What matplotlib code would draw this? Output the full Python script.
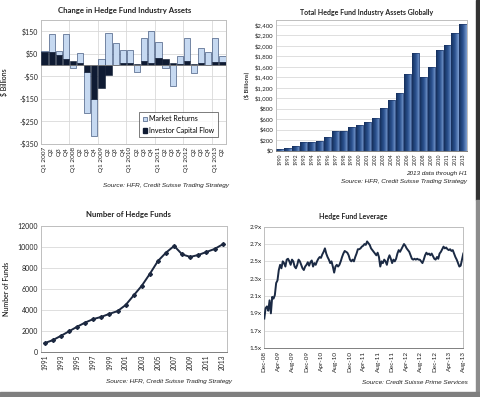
import numpy as np
import matplotlib
matplotlib.use("Agg")
import matplotlib.pyplot as plt
from matplotlib.colors import LinearSegmentedColormap
from matplotlib.patches import Rectangle, Patch

plt.rcParams['font.family'] = ['Lato', 'DejaVu Sans']

# ---------------- data ----------------
quarters = ["Q1 2007", "Q2", "Q3", "Q4", "Q1 2008", "Q2", "Q3", "Q4",
            "Q1 2009", "Q2", "Q3", "Q4", "Q1 2010", "Q2", "Q3", "Q4",
            "Q1 2011", "Q2", "Q3", "Q4", "Q1 2012", "Q2", "Q3", "Q4",
            "Q1 2013", "Q2"]
capital_flow = [58, 57, 44, 29, 17, 11, -31, -150, -103, -43, 1, 11, 11, 7,
                19, 11, 32, 29, 8, 3, 17, 4, 10, 2, 14, 14]
market_returns = [3, 82, 19, 110, -12, 43, -181, -163, 28, 143, 98, 58, 58, -29,
                  100, 138, 71, -12, -94, 37, 102, -34, 68, 58, 107, 26]

asset_years = [str(y) for y in range(1990, 2014)]
total_assets = [39, 58, 96, 168, 167, 186, 257, 368, 375, 456, 491, 539, 626,
                820, 973, 1105, 1465, 1868, 1407, 1600, 1917, 2008, 2252, 2410]

fund_years = list(range(1991, 2014))
num_funds = [821, 1105, 1514, 1945, 2383, 2781, 3115, 3325, 3617, 3873, 4454,
             5379, 6297, 7436, 8661, 9462, 10096, 9284, 9050, 9237, 9523, 9804, 10250]

lev_months = ["Dec-08", "Apr-09", "Aug-09", "Dec-09", "Apr-10", "Aug-10", "Dec-10",
              "Apr-11", "Aug-11", "Dec-11", "Apr-12", "Aug-12", "Dec-12", "Apr-13", "Aug-13"]
leverage = [1.84, 1.96, 1.98, 1.93, 2.05, 1.90, 2.09, 2.07, 2.11, 2.25, 2.28, 2.40,
            2.46, 2.42, 2.50, 2.48, 2.44, 2.52, 2.53, 2.50, 2.46, 2.52, 2.50, 2.44,
            2.42, 2.46, 2.52, 2.50, 2.46, 2.42, 2.40, 2.44, 2.46, 2.49, 2.45, 2.49,
            2.51, 2.44, 2.48, 2.46, 2.50, 2.53, 2.55, 2.54, 2.58, 2.61, 2.65, 2.59,
            2.55, 2.52, 2.48, 2.50, 2.44, 2.37, 2.44, 2.46, 2.44, 2.46, 2.50, 2.55,
            2.59, 2.62, 2.61, 2.60, 2.57, 2.52, 2.50, 2.52, 2.50, 2.55, 2.59, 2.64,
            2.64, 2.65, 2.67, 2.68, 2.70, 2.69, 2.73, 2.71, 2.69, 2.65, 2.63, 2.61,
            2.59, 2.57, 2.60, 2.55, 2.44, 2.50, 2.48, 2.52, 2.50, 2.46, 2.53, 2.57,
            2.53, 2.48, 2.52, 2.50, 2.53, 2.59, 2.63, 2.61, 2.64, 2.67, 2.70, 2.68,
            2.65, 2.63, 2.61, 2.57, 2.53, 2.52, 2.53, 2.52, 2.53, 2.52, 2.52, 2.50,
            2.48, 2.52, 2.57, 2.60, 2.58, 2.59, 2.57, 2.59, 2.56, 2.53, 2.52, 2.55,
            2.53, 2.59, 2.61, 2.64, 2.67, 2.65, 2.66, 2.64, 2.63, 2.64, 2.62, 2.63,
            2.59, 2.55, 2.52, 2.48, 2.44, 2.45, 2.52, 2.59]

# ---------------- figure ----------------
W, H = 481, 397
fig = plt.figure(figsize=(W / 100, H / 100), dpi=100)
fig.patch.set_facecolor('white')

def axes_px(l, t, r, b):
    return fig.add_axes([l / W, 1 - b / H, (r - l) / W, (b - t) / H])

def ftext(x, y, s, **kw):
    fig.text(x / W, 1 - y / H, s, **kw)

GRID = '#d9d9d9'
SPINE = '#bfbfbf'
NAVY = '#0f1b33'
LIGHT = '#c6d9f1'
CAP = dict(fontsize=4.6, style='italic', family=['Liberation Sans', 'DejaVu Sans'],
           ha='right', va='center', color='#222222')

def style_axes(ax):
    for s in ax.spines.values():
        s.set_color(SPINE)
        s.set_linewidth(0.7)
    ax.tick_params(length=0, pad=2, colors='#222222')

# ---- top-left: change in assets ----
ax1 = axes_px(41, 20, 226, 144)
x = np.arange(len(quarters))
ret_bottom = [f if (f > 0) == (r > 0) else 0 for f, r in zip(capital_flow, market_returns)]
ax1.bar(x, market_returns, bottom=ret_bottom, width=0.88, color=LIGHT,
        edgecolor='#1f3864', linewidth=0.4, zorder=3, label='Market Returns')
ax1.bar(x, capital_flow, width=0.88, color=NAVY, edgecolor=NAVY,
        linewidth=0.4, zorder=4, label='Investor Capital Flow')
ax1.set_xlim(-0.5, len(quarters) - 0.5)
ax1.set_ylim(-350, 200)
yt = [150, 50, -50, -150, -250, -350]
ax1.set_yticks(yt)
ax1.set_yticklabels([("$%d" % v) if v > 0 else ("-$%d" % -v) for v in yt], fontsize=5)
for lab, v in zip(ax1.get_yticklabels(), yt):
    lab.set_color('#e0302a' if v < 0 else '#222222')
ax1.set_xticks(x)
ax1.set_xticklabels(quarters, rotation=90, fontsize=4.6)
for yv in yt:
    ax1.axhline(yv, color=GRID, lw=0.6, zorder=1)
for xv in np.arange(3.5, len(quarters) - 1, 4):
    ax1.axvline(xv, color=GRID, lw=0.6, zorder=1)
ax1.axhline(0, color='#7f7f7f', lw=0.6, zorder=5)
style_axes(ax1)
ax1.set_ylabel('$ Billions', fontsize=5, labelpad=8)
leg = ax1.legend(handles=[Patch(facecolor=LIGHT, edgecolor='#1f3864', lw=0.4, label='Market Returns'),
                          Patch(facecolor=NAVY, edgecolor=NAVY, label='Investor Capital Flow')],
                 loc='lower right', bbox_to_anchor=(0.957, 0.056), borderaxespad=0,
                 fontsize=5, frameon=True, fancybox=False, handlelength=0.7,
                 handleheight=0.7, handletextpad=0.3, borderpad=0.5, labelspacing=0.6)
leg.get_frame().set_edgecolor('#404040')
leg.get_frame().set_linewidth(0.6)
ftext(125, 10, 'Change in Hedge Fund Industry Assets', fontsize=5.6, fontweight='bold',
      ha='center', va='center', color='#222222')
ftext(229, 186, 'Source: HFR, Credit Suisse Trading Strategy', **CAP)

# ---- top-right: total assets ----
ax2 = axes_px(276, 19.5, 467, 150.7)
xa = np.arange(len(asset_years))
bars = ax2.bar(xa, total_assets, width=0.9, facecolor='none', edgecolor='#1a3260',
               linewidth=0.4, zorder=3)
cmap = LinearSegmentedColormap.from_list('g', ['#14305c', '#2c5290', '#7d9fd3'])
grad = np.linspace(0, 1, 64).reshape(1, -1)
for rect in bars:
    x0, y0, w, h = rect.get_x(), rect.get_y(), rect.get_width(), rect.get_height()
    im = ax2.imshow(grad, extent=[x0, x0 + w, y0, y0 + h], aspect='auto',
                    cmap=cmap, zorder=2, interpolation='bilinear')
    im.set_clip_path(rect)
ax2.set_xlim(-0.5, len(asset_years) - 0.5)
ax2.set_ylim(0, 2500)
yt2 = list(range(0, 2401, 200))
ax2.set_yticks(yt2)
ax2.set_yticklabels(['$' + format(v, ',') for v in yt2], fontsize=4.3)
ax2.set_xticks(xa)
ax2.set_xticklabels(asset_years, rotation=90, fontsize=3.6)
for yv in yt2[1:]:
    ax2.axhline(yv, color=GRID, lw=0.6, zorder=1)
style_axes(ax2)
ax2.spines['bottom'].set_color('#808080')
ax2.set_ylabel('($ Billions)', fontsize=4.3, labelpad=4)
ftext(367, 12, 'Total Hedge Fund Industry Assets Globally', fontsize=5.0, fontweight='bold',
      ha='center', va='center', color='#222222')
ftext(467, 173, '2013 data through H1', **CAP)
ftext(467, 182, 'Source: HFR, Credit Suisse Trading Strategy', **CAP)

# ---- bottom-left: number of hedge funds ----
ax3 = axes_px(40.7, 226, 226.7, 351.7)
ax3.plot(fund_years, num_funds, color='#1c2840', lw=1.4, marker='D', markersize=2.0,
         zorder=3)
ax3.set_xlim(1990.5, 2013.5)
ax3.set_ylim(0, 12000)
yt3 = list(range(0, 12001, 2000))
ax3.set_yticks(yt3)
ax3.set_yticklabels([str(v) for v in yt3], fontsize=5)
ax3.set_xticks(list(range(1991, 2014, 2)))
ax3.set_xticklabels([str(v) for v in range(1991, 2014, 2)], rotation=90, fontsize=4.8)
for yv in yt3[1:]:
    ax3.axhline(yv, color=GRID, lw=0.6, zorder=1)
style_axes(ax3)
ax3.spines['bottom'].set_color('#808080')
ax3.set_ylabel('Number of Funds', fontsize=5, labelpad=5)
ftext(128, 215, 'Number of Hedge Funds', fontsize=5.6, fontweight='bold',
      ha='center', va='center', color='#222222')
ftext(232, 382, 'Source: HFR, Credit Suisse Trading Strategy', **CAP)

# ---- bottom-right: leverage ----
ax4 = axes_px(264.3, 226.7, 463.3, 348)
n_months = 4 * (len(lev_months) - 1)
xl = np.linspace(0, n_months, len(leverage))
ax4.plot(xl, leverage, color='#1b2a44', lw=1.4, zorder=3, solid_joinstyle='round')
ax4.set_xlim(0, n_months)
ax4.set_ylim(1.5, 2.9)
yt4 = [1.5, 1.7, 1.9, 2.1, 2.3, 2.5, 2.7, 2.9]
ax4.set_yticks(yt4)
ax4.set_yticklabels(['%.1fx' % v for v in yt4], fontsize=4.6)
ax4.set_xticks(list(range(0, n_months + 1, 4)))
ax4.set_xticklabels(lev_months, rotation=90, fontsize=4.6)
for yv in yt4[1:]:
    ax4.axhline(yv, color=GRID, lw=0.6, zorder=1)
style_axes(ax4)
ax4.spines['bottom'].set_color('#808080')
ftext(353, 217, 'Hedge Fund Leverage', fontsize=5.0, fontweight='bold',
      ha='center', va='center', color='#222222')
ftext(468, 383, 'Source: Credit Suisse Prime Services', **CAP)

# ---- frame strips ----
fig.patches.append(Rectangle((476 / W, 1 - 200 / H), 5 / W, 200 / H,
                             transform=fig.transFigure, color='#333333', zorder=0))
fig.patches.append(Rectangle((476 / W, 0), 5 / W, 197 / H,
                             transform=fig.transFigure, color='#8c8c8c', zorder=0))
fig.patches.append(Rectangle((0, 0), 1, 5 / H,
                             transform=fig.transFigure, color='#7f7f7f', zorder=0))

fig.savefig('out.png', dpi=100, facecolor='white')
